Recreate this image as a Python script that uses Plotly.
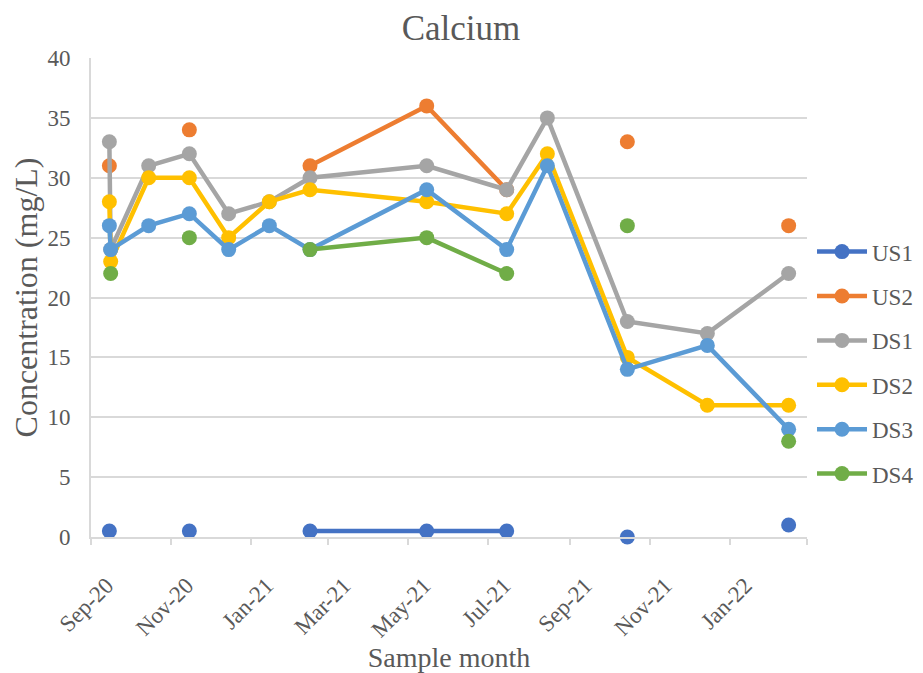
import plotly.graph_objects as go
import pandas as pd

# sample dates (two samples taken a day apart in Sep 2020)
dates = ['2020-09-15', '2020-09-16', '2020-10-15', '2020-11-15', '2020-12-15',
         '2021-01-15', '2021-02-15', '2021-05-15', '2021-07-15', '2021-08-15',
         '2021-10-15', '2021-12-15', '2022-02-15']

# calcium concentration, mg/L (None = not sampled)
us1 = [0.5, None, None, 0.5, None, None, 0.5, 0.5, 0.5, None, 0, None, 1]
us2 = [31, None, None, 34, None, None, 31, 36, 29, None, 33, None, 26]
ds1 = [33, 24, 31, 32, 27, 28, 30, 31, 29, 35, 18, 17, 22]
ds2 = [28, 23, 30, 30, 25, 28, 29, 28, 27, 32, 15, 11, 11]
ds3 = [26, 24, 26, 27, 24, 26, 24, 29, 24, 31, 14, 16, 9]
ds4 = [None, 22, None, 25, None, None, 24, 25, 22, None, 26, None, 8]

tick_dates = ['2020-09-01', '2020-11-01', '2021-01-01', '2021-03-01', '2021-05-01',
              '2021-07-01', '2021-09-01', '2021-11-01', '2022-01-01']
tick_text = ['Sep-20', 'Nov-20', 'Jan-21', 'Mar-21', 'May-21',
             'Jul-21', 'Sep-21', 'Nov-21', 'Jan-22']

series = [('US1', us1, '#4472C4'), ('US2', us2, '#ED7D31'), ('DS1', ds1, '#A5A5A5'),
          ('DS2', ds2, '#FFC000'), ('DS3', ds3, '#5B9BD5'), ('DS4', ds4, '#70AD47')]

font_name = 'Liberation Serif'
txt = '#595959'
grid = '#d9d9d9'

# Excel centres the rotated labels a bit right of the tick mark
label_pos = [(pd.Timestamp(d) + pd.Timedelta(days=12)).strftime('%Y-%m-%d') for d in tick_dates]

fig = go.Figure()
for name, vals, col in series:
    fig.add_trace(go.Scatter(
        x=dates, y=vals, name=name, mode='lines+markers',
        line=dict(color=col, width=4.5),
        marker=dict(color=col, size=15),
        connectgaps=False, cliponaxis=False,
        legendgroup=name,
    ))

# page body has an 8px margin, so the figure is 8px smaller than the window
fig.update_layout(
    width=915, height=665,
    margin=dict(l=83, r=116, t=50, b=136, autoexpand=False),
    paper_bgcolor='white', plot_bgcolor='white',
    font=dict(family=font_name, color=txt, size=23),
    title=dict(text='Calcium', x=0.495, xanchor='center', y=0.971, yanchor='middle',
               font=dict(size=35, color=txt, family=font_name)),
    legend=dict(x=1.007, xanchor='left', y=0.364, yanchor='middle',
                font=dict(size=23, color=txt), tracegroupgap=11.5,
                itemwidth=50, bgcolor='rgba(0,0,0,0)'),
    showlegend=True,
)

fig.update_xaxes(
    type='date', range=['2020-09-01', '2022-03-01'],
    tickmode='array', tickvals=label_pos, ticktext=tick_text,
    tickangle=-45, tickfont=dict(size=23, color=txt),
    ticks='', ticklabelstandoff=24,
    minor=dict(ticks='outside', ticklen=6, tickcolor=grid, tickwidth=2,
               dtick='M2', tick0='2020-09-01', showgrid=False),
    showgrid=False, zeroline=False,
    showline=True, linecolor=grid, linewidth=2,
    title=dict(text='Sample month', font=dict(size=28, color=txt), standoff=0),
)

fig.update_yaxes(
    range=[0, 40], dtick=5, tick0=0,
    tickfont=dict(size=23, color=txt),
    showgrid=True, gridcolor=grid, gridwidth=2,
    zeroline=False,
    showline=True, linecolor=grid, linewidth=2,
    ticks='', ticklabelstandoff=14,
    title=dict(text='Concentration (mg/L)', font=dict(size=32, color=txt), standoff=4),
)

fig.write_html('out.html')
